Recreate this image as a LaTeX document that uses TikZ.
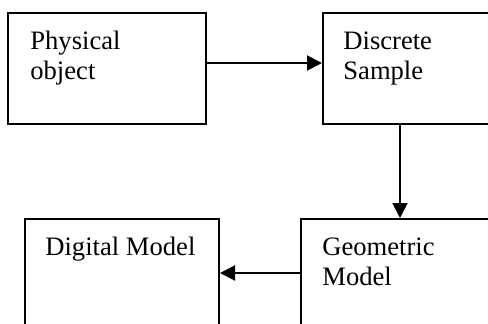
\documentclass[tikz,border=0pt]{standalone}
\usepackage{fontspec}
\setmainfont{Liberation Serif}
\usetikzlibrary{arrows.meta}

\begin{document}
\begin{tikzpicture}[x=0.5pt, y=-0.5pt,
  box/.style={draw, line width=1pt, minimum width=99pt, minimum height=55.5pt, inner sep=0pt},
  lbl/.style={anchor=north west, inner sep=0pt, align=left, font=\fontsize{13.3}{15}\selectfont},
  flow/.style={-{Triangle[length=7.5pt, width=7.5pt]}, line width=1pt}]
  \useasboundingbox (0,0) rectangle (488,323);
  \clip (0,0) rectangle (488,323);
  \fill[white] (0,0) rectangle (488,323);
  \node[box]                         (phys) at (107,68.5)  {};
  \node[box]                         (disc) at (422,68.5)  {};
  \node[box]                         (geom) at (400,274.5) {};
  \node[box, minimum width=97pt]     (digi) at (122,274.5) {};
  \node[lbl] (physlbl) at (30,31)  {Physical\\object};
  \node[lbl] (disclbl) at (343,31) {Discrete\\Sample};
  \node[lbl] (geomlbl) at (322,237) {Geometric\\Model};
  \node[lbl] (digilbl) at (45,237)  {Digital Model};
  \draw[flow] ([yshift=2.75pt]phys.east) -- ([yshift=2.75pt]disc.west);
  \draw[flow] (disc.south -| geom.north) -- (geom.north);
  %\draw[flow] (geom) -- (digi);
  \draw[flow] ([yshift=0.75pt]geom.west) -- ([yshift=0.75pt]digi.east);
\end{tikzpicture}
\end{document}
